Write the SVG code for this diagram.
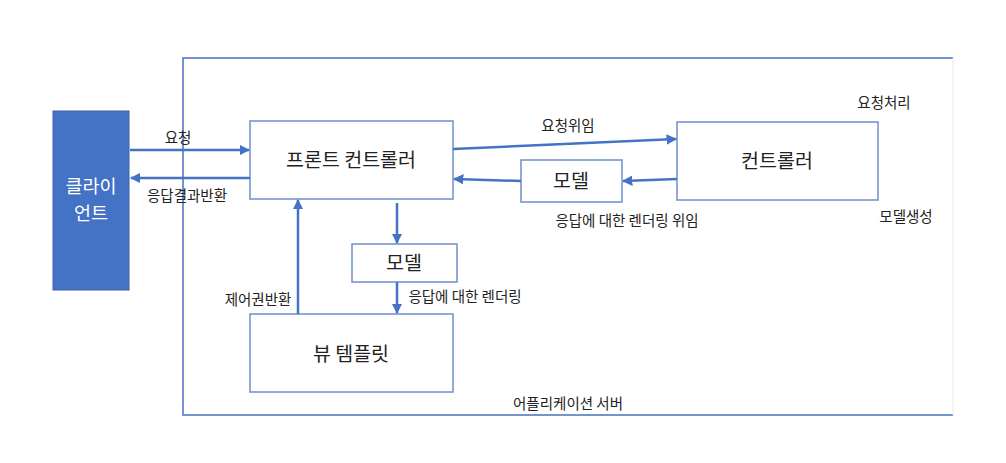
<svg xmlns="http://www.w3.org/2000/svg" width="1006" height="463" viewBox="0 0 1006 463">
<style>
.box{fill:#fff;stroke:#6F8FCB;stroke-width:1.5}
.frame{fill:none;stroke:#4472C4;stroke-width:1.5}
.c{stroke:#4472C4;stroke-width:2.5;fill:none;marker-end:url(#ah)}
text{font-family:"Noto Sans CJK KR","Noto Sans",sans-serif;fill:#222}
.lbl{font-size:14.5px}
.nd{font-size:19.5px;text-anchor:middle}
.cl{font-size:18.5px;text-anchor:middle}
</style>
<defs>
<marker id="ah" viewBox="0 0 10 10" refX="9" refY="5" markerWidth="4.2" markerHeight="4.2" orient="auto" markerUnits="strokeWidth">
<path d="M0,0L10,5L0,10z" fill="#4472C4"/>
</marker>
</defs>
<rect width="1006" height="463" fill="#fff"/>
<g id="server">
<path class="frame" d="M953,58H183V415H953"/>
<line x1="953" y1="58" x2="953" y2="415" stroke="#e8e8e8" stroke-width="1"/>
<text class="lbl" x="568" y="409" text-anchor="middle">어플리케이션 서버</text>
</g>
<g id="client">
<rect x="53" y="111" width="76" height="179" fill="#4472C4" stroke="#3A63AE" stroke-width="1"/>
<text class="cl" x="91" y="193" style="fill:#fff">클라이</text>
<text class="cl" x="91" y="220" style="fill:#fff">언트</text>
</g>
<g id="front">
<rect class="box" x="250" y="121" width="203" height="78"/>
<text class="nd" x="351" y="167">프론트 컨트롤러</text>
</g>
<g id="controller">
<rect class="box" x="677" y="122" width="201" height="78"/>
<text class="nd" x="777" y="168">컨트롤러</text>
</g>
<g id="model1">
<rect class="box" x="521" y="160" width="101" height="42"/>
<text class="nd" x="571" y="188">모델</text>
</g>
<g id="model2">
<rect class="box" x="352" y="244" width="105" height="38"/>
<text class="nd" x="404" y="270">모델</text>
</g>
<g id="view">
<rect class="box" x="250" y="314" width="203" height="78"/>
<text class="nd" x="351" y="361">뷰 템플릿</text>
</g>
<g id="connectors">
<line class="c" x1="130" y1="150" x2="249" y2="150"/>
<line class="c" x1="250" y1="178" x2="131" y2="178"/>
<line class="c" x1="453" y1="149" x2="676" y2="139"/>
<line class="c" x1="677" y1="179" x2="623" y2="181"/>
<line class="c" x1="521" y1="181" x2="454" y2="179"/>
<line class="c" x1="397" y1="203" x2="397" y2="243"/>
<line class="c" x1="397" y1="282" x2="397" y2="313"/>
<line class="c" x1="298" y1="314" x2="298" y2="200"/>
</g>
<g id="labels">
<text class="lbl" x="178" y="143" text-anchor="middle">요청</text>
<text class="lbl" x="187" y="201" text-anchor="middle">응답결과반환</text>
<text class="lbl" x="568" y="131" text-anchor="middle">요청위임</text>
<text class="lbl" x="884" y="108" text-anchor="middle">요청처리</text>
<text class="lbl" x="906" y="222" text-anchor="middle">모델생성</text>
<text class="lbl" x="627" y="226" text-anchor="middle">응답에 대한 렌더링 위임</text>
<text class="lbl" x="258" y="305" text-anchor="middle">제어권반환</text>
<text class="lbl" x="465" y="302" text-anchor="middle">응답에 대한 렌더링</text>
</g>
</svg>
